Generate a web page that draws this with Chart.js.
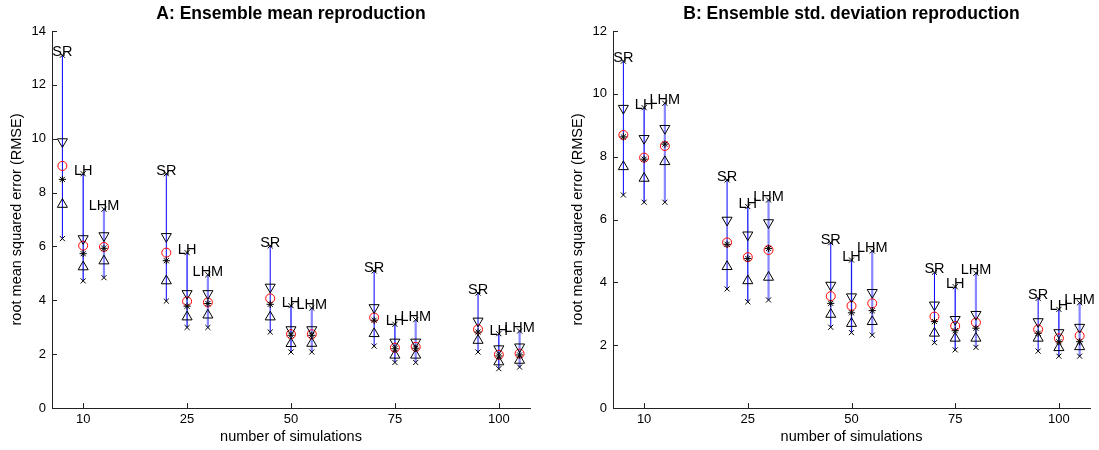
<!DOCTYPE html>
<html>
<head>
<meta charset="utf-8">
<script src="https://cdn.jsdelivr.net/npm/chart.js@4.4.0/dist/chart.umd.min.js"></script>
<style>
  body { margin: 0; background: #fff; }
  .box { position: absolute; top: 0; height: 450px; }
</style>
</head>
<body>
<div class="box" style="left:0;width:549px"><canvas id="chartA"></canvas></div>
<div class="box" style="left:549px;width:550px"><canvas id="chartB"></canvas></div>
<script>
// categories
const sims = ['10', '25', '50', '75', '100'];
const methods = ['SR', 'LH', 'LHM'];

// panel A, one triple [SR, LH, LHM] per number of simulations
const aMax    = [[13.1, 8.70, 7.38], [8.70, 5.77, 4.95], [6.02, 3.80, 3.71], [5.09, 3.11, 3.28], [4.27, 2.76, 2.86]];
const aUpper  = [[9.89, 6.29, 6.40], [6.37, 4.25, 4.25], [4.49, 2.91, 2.91], [3.73, 2.45, 2.45], [3.23, 2.20, 2.27]];
const aMean   = [[8.99, 6.03, 5.98], [5.77, 3.96, 3.92], [4.07, 2.74, 2.74], [3.36, 2.24, 2.27], [2.92, 1.98, 2.02]];
const aMedian = [[8.49, 5.73, 5.93], [5.47, 3.78, 3.88], [3.85, 2.70, 2.70], [3.26, 2.20, 2.22], [2.82, 1.93, 1.97]];
const aLower  = [[7.56, 5.24, 5.46], [4.72, 3.38, 3.45], [3.38, 2.39, 2.40], [2.76, 1.96, 1.96], [2.51, 1.71, 1.77]];
const aMin    = [[6.29, 4.72, 4.84], [3.97, 2.99, 2.99], [2.82, 2.08, 2.08], [2.30, 1.69, 1.69], [2.08, 1.46, 1.52]];

// panel B
const bMax    = [[11.04, 9.56, 9.70], [7.26, 6.41, 6.62], [5.26, 4.71, 5.00], [4.32, 3.86, 4.29], [3.49, 3.14, 3.35]];
const bUpper  = [[9.54, 8.58, 8.90], [5.98, 5.51, 5.90], [3.91, 3.54, 3.68], [3.28, 2.82, 2.98], [2.75, 2.40, 2.57]];
const bMean   = [[8.69, 7.97, 8.34], [5.27, 4.80, 5.03], [3.56, 3.25, 3.33], [2.91, 2.61, 2.72], [2.50, 2.22, 2.30]];
const bMedian = [[8.63, 7.92, 8.40], [5.21, 4.76, 5.08], [3.33, 3.03, 3.10], [2.75, 2.46, 2.54], [2.38, 2.11, 2.11]];
const bLower  = [[7.68, 7.31, 7.84], [4.50, 4.05, 4.16], [2.98, 2.69, 2.75], [2.38, 2.22, 2.22], [2.22, 1.92, 1.95]];
const bMin    = [[6.78, 6.55, 6.55], [3.79, 3.38, 3.44], [2.57, 2.40, 2.32], [2.08, 1.85, 1.93], [1.81, 1.65, 1.65]];

const yTicksA = [0, 2, 4, 6, 8, 10, 12, 14];
const yTicksB = [0, 2, 4, 6, 8, 10, 12];

const FONT = "'Liberation Sans', Arial, Helvetica, sans-serif";
const offsets = [-0.2, 0, 0.2];
const lineColors = ['#0000ff', '#1a1aff', 'rgba(70,70,255,0.65)'];
const lineWidths = [1, 1.3, 2.2];

function pts(arr) {
  const out = [];
  arr.forEach((g, i) => g.forEach((v, m) => out.push({ x: i + 1 + offsets[m], y: v })));
  return out;
}

function buildDatasets(d) {
  const ds = [];
  methods.forEach((name, m) => {
    const data = [];
    d.max.forEach((g, i) => {
      const x = i + 1 + offsets[m];
      data.push({ x: x, y: d.min[i][m] }, { x: x, y: g[m] }, { x: x, y: null });
    });
    ds.push({ type: 'line', label: name, data: data, borderColor: lineColors[m], borderWidth: lineWidths[m],
      pointRadius: 0, spanGaps: false, order: 10 });
  });
  const mk = (label, src, style, extra) => Object.assign({
    type: 'scatter', label: label, data: pts(src), pointStyle: style,
    borderColor: '#000', backgroundColor: 'rgba(0,0,0,0)', pointBorderWidth: 1, order: 1
  }, extra);
  ds.push(mk('max', d.max, 'crossRot', { pointRadius: 3.6 }));
  ds.push(mk('min', d.min, 'crossRot', { pointRadius: 3.6 }));
  ds.push(mk('upper', d.upper, 'triangle', { pointRadius: 5.8, rotation: 180 }));
  ds.push(mk('lower', d.lower, 'triangle', { pointRadius: 5.8 }));
  ds.push(mk('median', d.median, 'star', { pointRadius: 3.6 }));
  ds.push(mk('mean', d.mean, 'circle', { pointRadius: 4.5, borderColor: '#ff0000' }));
  return ds;
}

// method names above each maximum, and inward tick marks
const extras = {
  id: 'extras',
  afterDatasetsDraw(chart, args, opts) {
    const ctx = chart.ctx, xs = chart.scales.x, ys = chart.scales.y, a = chart.chartArea;
    ctx.save();
    ctx.font = '14.5px ' + FONT;
    ctx.fillStyle = '#000';
    ctx.textAlign = 'center';
    ctx.textBaseline = 'alphabetic';
    opts.max.forEach((g, i) => g.forEach((v, m) => {
      ctx.fillText(methods[m], xs.getPixelForValue(i + 1 + offsets[m]), ys.getPixelForValue(v) + 1);
    }));
    ctx.strokeStyle = '#222';
    ctx.lineWidth = 1;
    ctx.beginPath();
    ys.ticks.forEach(t => {
      const y = Math.round(ys.getPixelForValue(t.value)) + 0.5;
      ctx.moveTo(a.left, y); ctx.lineTo(a.left + 5, y);
    });
    xs.ticks.forEach(t => {
      const x = Math.round(xs.getPixelForValue(t.value)) + 0.5;
      ctx.moveTo(x, a.bottom); ctx.lineTo(x, a.bottom - 5);
    });
    ctx.stroke();
    ctx.restore();
  }
};

function makeChart(id, title, d, yMax, yTicks, padLeft, padRight) {
  return new Chart(id, {
    data: { datasets: buildDatasets(d) },
    options: {
      responsive: true,
      maintainAspectRatio: false,
      animation: false,
      layout: { padding: { left: padLeft, right: padRight, top: 0, bottom: 0 } },
      plugins: {
        legend: { display: false },
        tooltip: { enabled: false },
        title: {
          display: true, text: title, fullSize: false, color: '#000',
          font: { family: FONT, size: 17.5, weight: 'bold' },
          padding: { top: 4, bottom: 6 }
        },
        extras: { max: d.max }
      },
      scales: {
        x: {
          type: 'linear', min: 0.7, max: 5.3,
          afterBuildTicks: s => { s.ticks = sims.map((_, i) => ({ value: i + 1 })); },
          afterFit: s => { s.height = 42; },
          ticks: { callback: v => sims[v - 1], color: '#000', font: { family: FONT, size: 13 }, padding: 4, maxRotation: 0 },
          grid: { drawOnChartArea: false, drawTicks: false },
          border: { color: '#222', width: 1 },
          title: { display: true, text: 'number of simulations', color: '#000', font: { family: FONT, size: 14.5 }, padding: { top: 0, bottom: 4 } }
        },
        y: {
          min: 0, max: yMax,
          afterBuildTicks: s => { s.ticks = yTicks.map(v => ({ value: v })); },
          afterFit: s => { s.width = 52; },
          ticks: { color: '#000', font: { family: FONT, size: 13 }, padding: 6 },
          grid: { drawOnChartArea: false, drawTicks: false },
          border: { color: '#222', width: 1 },
          title: { display: true, text: 'root mean squared error (RMSE)', color: '#000', font: { family: FONT, size: 14.5 }, padding: { top: 8, bottom: 0 } }
        }
      }
    },
    plugins: [extras]
  });
}

makeChart('chartA', 'A: Ensemble mean reproduction',
  { max: aMax, upper: aUpper, mean: aMean, median: aMedian, lower: aLower, min: aMin }, 14, yTicksA, 0, 19);
makeChart('chartB', 'B: Ensemble std. deviation reproduction',
  { max: bMax, upper: bUpper, mean: bMean, median: bMedian, lower: bLower, min: bMin }, 12, yTicksB, 12, 9);
</script>
</body>
</html>
